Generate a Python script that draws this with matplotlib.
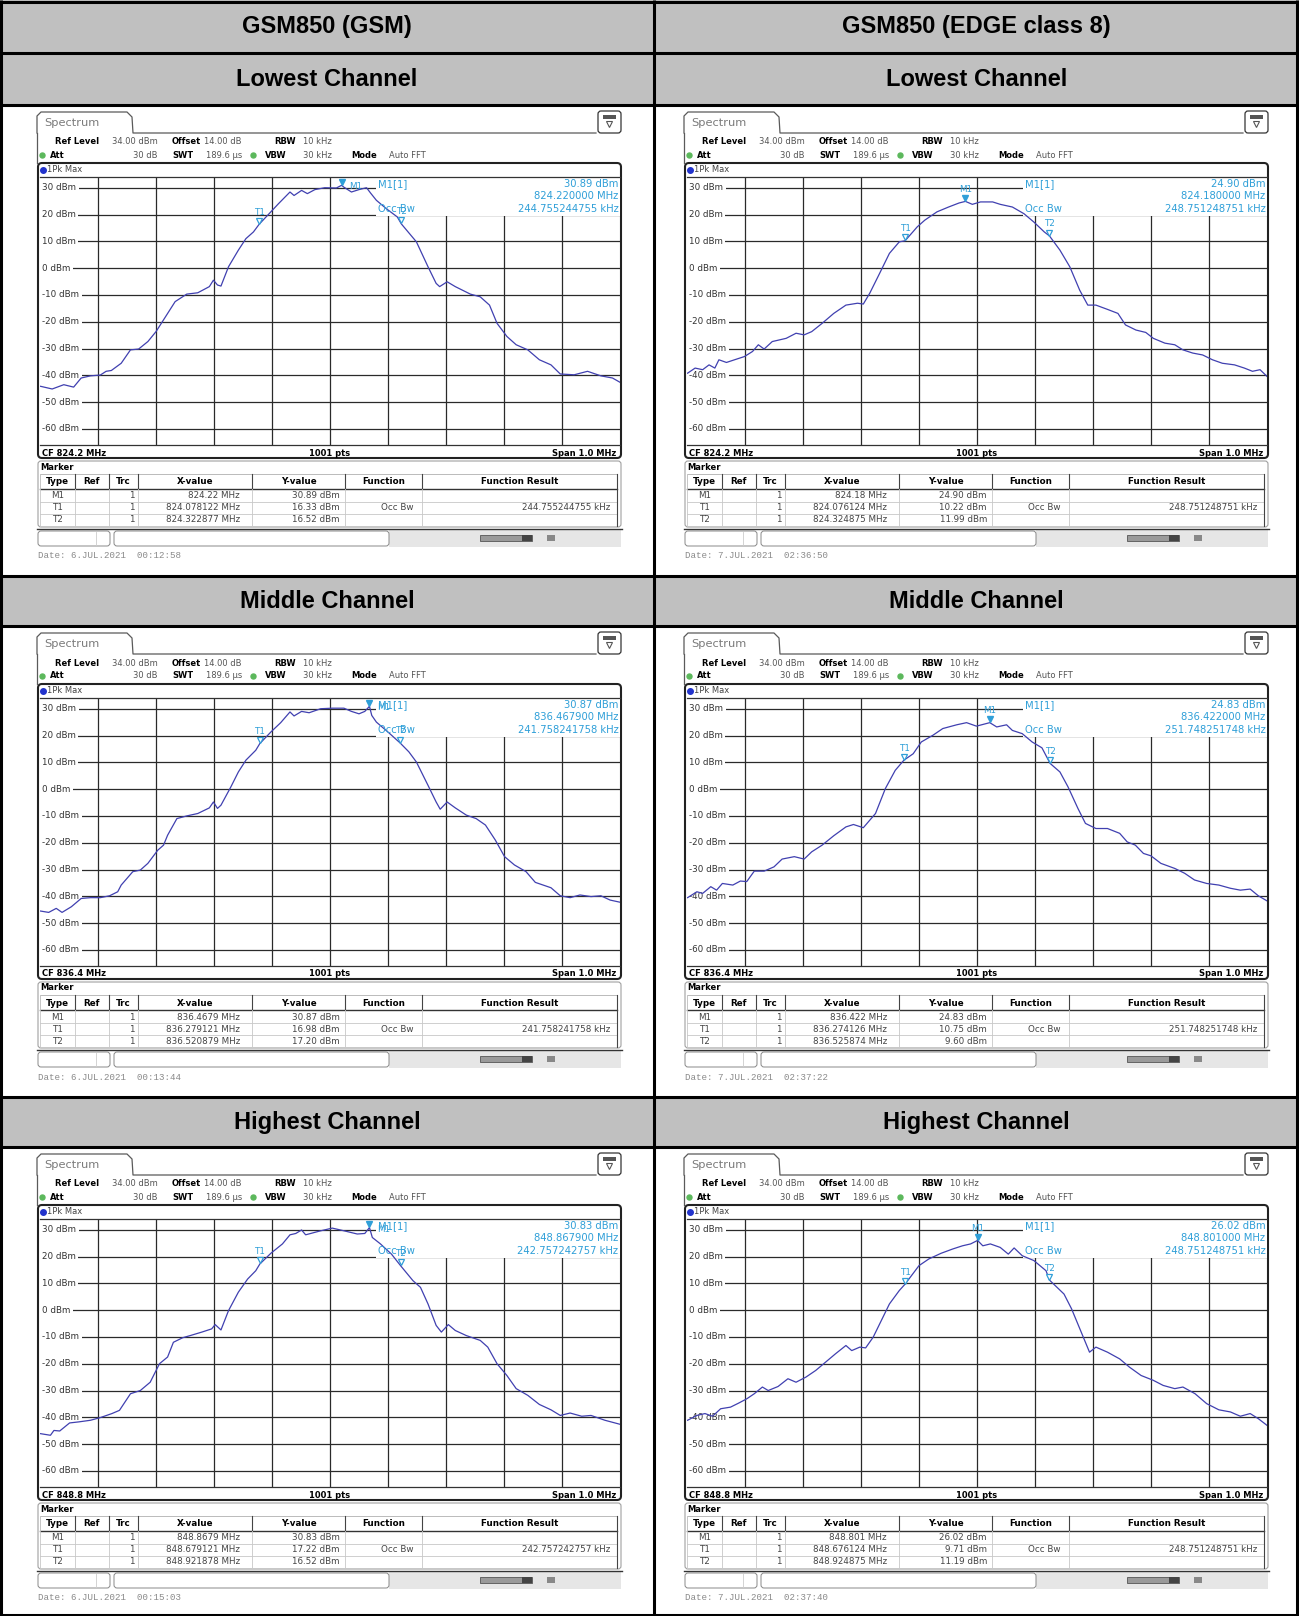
import matplotlib
matplotlib.use("Agg")
import matplotlib.pyplot as plt
from matplotlib.patches import Rectangle, FancyBboxPatch

W, H = 1299, 1616

# ---- table text ----
col_titles = ["GSM850 (GSM)", "GSM850 (EDGE class 8)"]
row_titles = ["Lowest Channel", "Middle Channel", "Highest Channel"]
cf_labels = ["CF 824.2 MHz", "CF 836.4 MHz", "CF 848.8 MHz"]
y_ticks = [30, 20, 10, 0, -10, -20, -30, -40, -50, -60]

# ---- traces (offset from CF in kHz, level in dBm) ----
gsm_low_khz = [-499, -479, -459, -442, -429, -413, -396, -386, -377, -360, -344, -330, -314, -300, -287,
               -267, -247, -228, -208, -201, -194, -188, -175, -158, -145, -132, -122, -105, -89, -69,
               -62, -49, -39, -26, -9, 11, 20, 24, 37, 50, 63, 70, 80, 97, 116,
               123, 149, 169, 183, 189, 202, 216, 242, 259, 275, 288, 305, 321, 341, 361,
               381, 397, 421, 444, 467, 487, 500]
gsm_low_dbm = [-44.1, -45.1, -43.5, -44.4, -41.0, -40.2, -39.9, -38.5, -38.2, -35.5, -30.5, -30.2, -27.4, -23.7, -19.3,
               -12.5, -9.7, -9.2, -6.9, -4.5, -6.3, -6.7, 0.5, 6.7, 11.0, 13.5, 16.4, 20.3, 24.0, 28.4,
               27.1, 29.0, 27.8, 29.3, 30.0, 29.9, 30.9, 30.2, 28.4, 29.3, 30.0, 28.0, 25.3, 22.2, 19.1,
               16.5, 9.8, 0.5, -5.7, -6.9, -5.1, -6.9, -9.7, -10.7, -13.8, -20.6, -25.5, -28.6, -30.5, -34.2,
               -36.1, -39.5, -39.8, -38.5, -40.2, -41.0, -42.6]

gsm_mid_khz = [-499, -485, -472, -462, -446, -429, -413, -396, -380, -366, -360, -340, -327, -314, -297,
               -287, -280, -264, -247, -228, -208, -201, -194, -188, -171, -158, -145, -128, -121, -102,
               -85, -69, -62, -49, -36, -16, 4, 24, 37, 50, 60, 68, 72, 80, 100,
               121, 136, 149, 169, 183, 190, 202, 216, 235, 252, 268, 285, 301, 318, 338,
               354, 381, 397, 414, 431, 450, 467, 483, 500]
gsm_mid_dbm = [-45.5, -46.0, -44.5, -46.0, -43.9, -40.8, -40.5, -40.5, -39.8, -38.3, -35.8, -30.8, -30.2, -27.7, -22.8,
               -20.9, -17.2, -11.0, -10.0, -9.1, -7.0, -4.8, -7.2, -6.0, 0.8, 6.4, 10.8, 14.5, 17.0, 21.3,
               24.8, 28.8, 27.3, 29.0, 28.5, 30.0, 30.2, 30.2, 29.0, 28.1, 29.0, 30.9, 27.5, 25.0, 21.3,
               17.2, 13.9, 10.1, 1.4, -4.8, -7.5, -4.8, -7.0, -9.7, -11.0, -13.4, -19.0, -25.2, -28.3, -30.8,
               -34.8, -36.8, -39.8, -40.5, -39.5, -40.1, -39.8, -41.4, -42.2]

gsm_high_khz = [-499, -482, -476, -466, -449, -433, -413, -396, -376, -363, -344, -327, -310, -294, -280,
                -270, -254, -241, -221, -204, -198, -188, -175, -158, -142, -128, -121, -102, -82, -69,
                -59, -49, -42, -16, 4, 24, 47, 60, 68, 73, 87, 106, 122, 143, 156,
                169, 183, 192, 204, 216, 235, 259, 272, 288, 305, 321, 341, 361, 381, 397,
                414, 434, 450, 474, 500]
gsm_high_dbm = [-46.1, -46.7, -44.9, -45.1, -42.1, -41.7, -41.1, -40.1, -38.6, -37.4, -31.2, -30.0, -26.9, -20.0, -17.5,
                -12.0, -10.3, -9.5, -8.2, -7.0, -5.4, -7.4, -0.2, 6.7, 11.6, 14.7, 17.2, 21.2, 24.7, 28.1,
                28.6, 29.9, 28.1, 29.6, 30.6, 29.6, 28.4, 28.6, 30.8, 27.1, 24.7, 20.9, 16.5, 11.0, 8.5,
                2.3, -5.7, -8.2, -5.4, -7.6, -9.5, -11.3, -13.8, -20.0, -24.4, -29.3, -31.8, -35.2, -37.2, -39.3,
                -38.4, -39.6, -39.3, -41.1, -42.6]

edge_low_khz = [-499, -486, -473, -462, -452, -445, -432, -418, -401, -387, -377, -367, -353, -329, -312,
                -298, -285, -267, -247, -226, -206, -196, -185, -168, -151, -134, -124, -103, -90, -69,
                -49, -31, -20, -8, 6, 27, 40, 61, 81, 98, 116, 125, 143, 160, 177,
                191, 205, 225, 243, 256, 274, 291, 304, 324, 341, 355, 372, 389, 406, 423,
                444, 461, 475, 488, 500]
edge_low_dbm = [-39.2, -37.3, -37.9, -36.1, -37.3, -34.2, -35.2, -34.2, -33.0, -31.1, -28.6, -30.2, -27.4, -26.2, -24.3,
                -24.9, -23.7, -20.6, -16.9, -13.8, -13.1, -13.4, -9.4, -2.0, 5.5, 9.8, 10.2, 15.4, 17.9, 21.0,
                22.8, 24.3, 24.9, 23.8, 24.7, 24.7, 23.8, 22.8, 20.3, 17.2, 13.5, 12.0, 6.7, 0.5, -8.2,
                -13.8, -13.8, -15.4, -16.9, -21.2, -23.1, -24.0, -26.2, -28.0, -28.6, -30.5, -31.7, -32.4, -34.2, -35.5,
                -36.1, -37.3, -38.5, -37.9, -40.4]

edge_mid_khz = [-499, -483, -473, -459, -449, -439, -421, -408, -397, -384, -367, -350, -336, -315, -298,
                -285, -267, -247, -226, -213, -196, -175, -158, -141, -126, -110, -96, -76, -59, -35,
                -18, -1, 22, 34, 51, 61, 78, 95, 112, 126, 143, 157, 174, 187, 205,
                225, 246, 259, 273, 287, 300, 317, 341, 358, 375, 396, 417, 437, 454, 471,
                485, 500]
edge_mid_dbm = [-40.5, -38.3, -38.9, -36.4, -37.7, -35.2, -35.8, -34.3, -34.5, -30.6, -30.6, -29.0, -26.1, -25.2, -26.1,
                -23.4, -20.9, -17.4, -14.1, -13.2, -14.4, -9.1, 0.2, 7.0, 10.8, 13.2, 17.6, 20.1, 22.6, 24.0,
                24.8, 23.5, 24.8, 23.2, 24.0, 21.9, 20.7, 17.6, 15.4, 9.6, 6.4, 0.8, -7.2, -12.8, -14.7,
                -14.7, -16.5, -19.7, -20.9, -24.0, -24.9, -27.7, -29.6, -31.4, -33.9, -35.2, -35.8, -37.0, -37.7, -37.3,
                -39.8, -41.7]

edge_high_khz = [-499, -483, -469, -456, -442, -425, -411, -397, -384, -370, -360, -343, -326, -312, -295,
                 -278, -261, -244, -226, -216, -202, -192, -179, -165, -151, -134, -124, -100, -83, -62,
                 -42, -25, -11, 1, 10, 23, 40, 54, 64, 78, 98, 119, 125, 150, 163,
                 181, 194, 205, 225, 246, 263, 283, 304, 321, 341, 355, 376, 396, 417, 437,
                 454, 471, 485, 500]
edge_high_dbm = [-41.1, -39.3, -38.6, -39.6, -36.8, -36.2, -34.7, -33.1, -31.2, -28.7, -30.0, -28.5, -25.6, -26.9, -25.0,
                 -22.5, -19.4, -16.3, -13.2, -15.1, -13.8, -14.1, -10.1, -3.9, 2.3, 7.3, 9.7, 16.6, 19.1, 21.2,
                 22.8, 24.0, 24.7, 26.0, 24.0, 24.7, 23.4, 20.9, 23.2, 20.3, 18.5, 14.7, 11.2, 6.0, 0.5,
                 -8.9, -15.7, -13.8, -15.7, -18.2, -21.3, -24.4, -26.2, -28.1, -29.3, -28.7, -31.2, -34.9, -37.2, -38.0,
                 -39.6, -38.6, -40.5, -43.0]

# ---- markers ----
gsm_m1_khz = [20.0, 67.9, 67.9]
gsm_m1_dbm = [30.89, 30.87, 30.83]
gsm_t1_khz = [-121.9, -120.9, -120.9]
gsm_t1_dbm = [16.33, 16.98, 17.22]
gsm_t2_khz = [122.9, 120.9, 121.9]
gsm_t2_dbm = [16.52, 17.20, 16.52]
gsm_m1_mhz = ["824.22", "836.4679", "848.8679"]
gsm_m1_mhz_long = ["824.220000", "836.467900", "848.867900"]
gsm_t1_mhz = ["824.078122", "836.279121", "848.679121"]
gsm_t2_mhz = ["824.322877", "836.520879", "848.921878"]
gsm_occ_bw = ["244.755244755", "241.758241758", "242.757242757"]
gsm_dates = ["6.JUL.2021  00:12:58", "6.JUL.2021  00:13:44", "6.JUL.2021  00:15:03"]

edge_m1_khz = [-20.0, 22.0, 1.0]
edge_m1_dbm = [24.90, 24.83, 26.02]
edge_t1_khz = [-123.9, -125.9, -123.9]
edge_t1_dbm = [10.22, 10.75, 9.71]
edge_t2_khz = [124.9, 125.9, 124.9]
edge_t2_dbm = [11.99, 9.60, 11.19]
edge_m1_mhz = ["824.18", "836.422", "848.801"]
edge_m1_mhz_long = ["824.180000", "836.422000", "848.801000"]
edge_t1_mhz = ["824.076124", "836.274126", "848.676124"]
edge_t2_mhz = ["824.324875", "836.525874", "848.924875"]
edge_occ_bw = ["248.751248751", "251.748251748", "248.751248751"]
edge_dates = ["7.JUL.2021  02:36:50", "7.JUL.2021  02:37:22", "7.JUL.2021  02:37:40"]

columns = [
    dict(traces=[(gsm_low_khz, gsm_low_dbm), (gsm_mid_khz, gsm_mid_dbm), (gsm_high_khz, gsm_high_dbm)],
         m1k=gsm_m1_khz, m1d=gsm_m1_dbm, t1k=gsm_t1_khz, t1d=gsm_t1_dbm, t2k=gsm_t2_khz, t2d=gsm_t2_dbm,
         m1f=gsm_m1_mhz, m1fl=gsm_m1_mhz_long, t1f=gsm_t1_mhz, t2f=gsm_t2_mhz, occ=gsm_occ_bw,
         dates=gsm_dates, edge=False),
    dict(traces=[(edge_low_khz, edge_low_dbm), (edge_mid_khz, edge_mid_dbm), (edge_high_khz, edge_high_dbm)],
         m1k=edge_m1_khz, m1d=edge_m1_dbm, t1k=edge_t1_khz, t1d=edge_t1_dbm, t2k=edge_t2_khz, t2d=edge_t2_dbm,
         m1f=edge_m1_mhz, m1fl=edge_m1_mhz_long, t1f=edge_t1_mhz, t2f=edge_t2_mhz, occ=edge_occ_bw,
         dates=edge_dates, edge=True),
]

CYAN = "#2f9fd8"
TRACE = "#4040b0"
GRID = "#2a2a2a"

fig = plt.figure(figsize=(W / 100, H / 100), dpi=100)
bg = fig.add_axes([0, 0, 1, 1])
bg.set_xlim(0, W)
bg.set_ylim(H, 0)
bg.axis("off")


def txt(x, y, s, size=6.0, **kw):
    kw.setdefault("va", "center")
    bg.text(x, y, s, fontsize=size, **kw)


# ---- outer table ----
header_rows = [(0, 53), (53, 105), (576, 626), (1097, 1147)]
panel_tops = [105, 626, 1147]
col_left = [0, 654]
col_right = [654, 1299]

for y0, y1 in header_rows:
    bg.add_patch(Rectangle((0, y0), W, y1 - y0, fc="#c0c0c0", ec="none"))
for y in [1.5, 53, 105, 576, 626, 1097, 1147, 1614.5]:
    bg.plot([0, W], [y, y], color="black", lw=2.2, solid_capstyle="butt")
for x in [1.5, 654, 1297.5]:
    bg.plot([x, x], [0, H], color="black", lw=2.2, solid_capstyle="butt")

for c in range(2):
    cx = (col_left[c] + col_right[c]) / 2
    txt(cx, 27, col_titles[c], size=17, ha="center", fontweight="bold", family="Liberation Sans")
    for r, (y0, y1) in enumerate(header_rows[1:]):
        txt(cx, (y0 + y1) / 2 + 1, row_titles[r], size=17, ha="center", fontweight="bold",
            family="Liberation Sans")

# ---- one analyzer screenshot ----
box_left = [38, 685]
BW = 583  # graph box width


def draw_panel(x0, top, col, r):
    khz, dbm = col["traces"][r]
    edge = col["edge"]

    # tab + top frame
    tab = [(x0 - 1, top + 28), (x0 - 1, top + 11), (x0 + 3, top + 7), (x0 + 89, top + 7),
           (x0 + 94, top + 12), (x0 + 95, top + 28), (x0 + 558, top + 28)]
    bg.plot(*zip(*tab), color="#5a5a5a", lw=0.9)
    bg.plot([x0 - 1, x0 - 1], [top + 28, top + 58], color="#5a5a5a", lw=0.9)
    txt(x0 + 6, top + 18, "Spectrum", size=8.2, color="#7a7a7a")
    bg.add_patch(FancyBboxPatch((x0 + 560, top + 6), 23, 22, boxstyle="round,pad=0,rounding_size=3",
                                fc="white", ec="#333", lw=0.9))
    bg.add_patch(Rectangle((x0 + 565, top + 10), 13, 4, fc="#555", ec="none"))
    bg.plot([x0 + 571.5], [top + 19], marker="v", ms=5, mfc="white", mec="#555", mew=0.8)

    # settings rows
    ya, yb = top + 37, top + 50
    txt(x0 + 17, ya, "Ref Level", fontweight="bold")
    txt(x0 + 120, ya, "34.00 dBm", ha="right", color="#555")
    txt(x0 + 134, ya, "Offset", fontweight="bold")
    txt(x0 + 166, ya, "14.00 dB", color="#555")
    txt(x0 + 236, ya, "RBW", fontweight="bold")
    txt(x0 + 265, ya, "10 kHz", color="#555")
    bg.plot([x0 + 4, x0 + 215], [yb, yb], ls="none", marker="o", ms=3.6, color="#5cb85c")
    txt(x0 + 12, yb, "Att", fontweight="bold")
    txt(x0 + 120, yb, "30 dB", ha="right", color="#555")
    txt(x0 + 134, yb, "SWT", fontweight="bold")
    txt(x0 + 168, yb, "189.6 µs", color="#555")
    txt(x0 + 227, yb, "VBW", fontweight="bold")
    txt(x0 + 265, yb, "30 kHz", color="#555")
    txt(x0 + 313, yb, "Mode", fontweight="bold")
    txt(x0 + 351, yb, "Auto FFT", color="#555")

    # graph box
    bg.add_patch(FancyBboxPatch((x0, top + 58), BW, 295, boxstyle="round,pad=0,rounding_size=4",
                                fc="white", ec="#222", lw=1.5))
    bg.plot([x0 + 5], [top + 64.5], marker="o", ms=4, color="#2233cc")
    txt(x0 + 9, top + 64.5, "1Pk Max", color="#444")
    txt(x0 + 4, top + 348, cf_labels[r], fontweight="bold")
    txt(x0 + BW / 2, top + 348, "1001 pts", fontweight="bold", ha="center")
    txt(x0 + BW - 5, top + 348, "Span 1.0 MHz", fontweight="bold", ha="right")

    # plot area
    ax = fig.add_axes([(x0 + 2) / W, 1 - (top + 340) / H, (BW - 3) / W, 268 / H])
    ax.set_xlim(-500, 500)
    ax.set_ylim(-66, 34)
    ax.set_xticks([])
    ax.set_yticks([])
    ax.patch.set_alpha(0)
    for s in ["left", "right"]:
        ax.spines[s].set_visible(False)
    for s in ["top", "bottom"]:
        ax.spines[s].set_color("#333")
        ax.spines[s].set_linewidth(0.9)
    for gx in range(-400, 500, 100):
        ax.axvline(gx, color=GRID, lw=0.9, zorder=1)
    for gy in y_ticks:
        ax.axhline(gy, color=GRID, lw=0.9, zorder=1)
        ax.text(-496, gy, f"{gy} dBm", fontsize=6.3, va="center", ha="left", color="#333", zorder=2,
                bbox=dict(fc="white", ec="none", pad=1.6))
    ax.add_patch(Rectangle((80, 19.6), 420, 14.4, fc="white", ec="none", zorder=1.5))
    ax.plot(khz, dbm, color=TRACE, lw=0.9, zorder=3)

    # marker readout
    ax.text(82, 31.4, "M1[1]", fontsize=7.2, color=CYAN, va="center", zorder=5)
    ax.text(497, 31.4, f"{col['m1d'][r]:.2f} dBm", fontsize=7.2, color=CYAN, va="center", ha="right", zorder=5)
    ax.text(497, 26.8, f"{col['m1fl'][r]} MHz", fontsize=7.2, color=CYAN, va="center", ha="right", zorder=5)
    ax.text(82, 21.9, "Occ Bw", fontsize=7.2, color=CYAN, va="center", zorder=5)
    ax.text(497, 21.9, f"{col['occ'][r]} kHz", fontsize=7.2, color=CYAN, va="center", ha="right", zorder=5)

    # markers on trace
    m1x, m1y = col["m1k"][r], col["m1d"][r]
    ax.plot([m1x], [m1y + 1.3], marker="v", ms=5, color=CYAN, zorder=4)
    if edge:
        ax.text(m1x, m1y + 4.5, "M1", fontsize=6.3, color=CYAN, ha="center", va="center", zorder=4)
    else:
        ax.text(m1x + 13, m1y - 0.6, "M1", fontsize=6.3, color=CYAN, ha="left", va="center", zorder=4)
    for name, tx, ty in [("T1", col["t1k"][r], col["t1d"][r]), ("T2", col["t2k"][r], col["t2d"][r])]:
        ax.plot([tx], [ty + 1.3], marker="v", ms=5, mfc="white", mec=CYAN, mew=0.9, zorder=4)
        ax.text(tx, ty + 4.5, name, fontsize=6.3, color=CYAN, ha="center", va="center", zorder=4)

    # marker table
    bg.add_patch(FancyBboxPatch((x0, top + 356), BW, 66, boxstyle="round,pad=0,rounding_size=3",
                                fc="white", ec="#a0a0a0", lw=0.8))
    txt(x0 + 2, top + 362, "Marker", fontweight="bold")
    tl, tr = x0 + 2, x0 + 579
    seps = [37, 70.6, 100, 213.8, 307, 384]
    bg.add_patch(Rectangle((tl, top + 369), tr - tl, 15, fc="white", ec="#b0b0b0", lw=0.6))
    bg.plot([tl, tr], [top + 384, top + 384], color="#333", lw=1.0)
    for yl in [top + 397, top + 409, top + 421]:
        bg.plot([tl, tr], [yl, yl], color="#c8c8c8", lw=0.6)
    for sx in seps:
        bg.plot([x0 + sx, x0 + sx], [top + 369, top + 384], color="#444", lw=0.8)
        bg.plot([x0 + sx, x0 + sx], [top + 384, top + 421], color="#c8c8c8", lw=0.6)
    bg.plot([tl, tl], [top + 369, top + 421], color="#c8c8c8", lw=0.6)
    bg.plot([tr, tr], [top + 369, top + 421], color="#444", lw=0.8)
    hy = top + 377
    for cx, s in [(19.5, "Type"), (53.8, "Ref"), (85.3, "Trc"), (157, "X-value"), (260.4, "Y-value"),
                  (345.5, "Function"), (481.5, "Function Result")]:
        txt(x0 + cx, hy, s, ha="center", fontweight="bold", size=6.3)
    rows = [("M1", col["m1f"][r], col["m1d"][r], "", ""),
            ("T1", col["t1f"][r], col["t1d"][r], "Occ Bw", f"{col['occ'][r]} kHz"),
            ("T2", col["t2f"][r], col["t2d"][r], "", "")]
    for i, (typ, xf, yv, fn, res) in enumerate(rows):
        yy = top + 391 + 12 * i
        txt(x0 + 19.5, yy, typ, ha="center", color="#444", size=6.3)
        txt(x0 + 97, yy, "1", ha="right", color="#444", size=6.3)
        txt(x0 + 202, yy, f"{xf} MHz", ha="right", color="#444", size=6.3)
        txt(x0 + 302, yy, f"{yv:.2f} dBm", ha="right", color="#444", size=6.3)
        txt(x0 + 376, yy, fn, ha="right", color="#444", size=6.3)
        txt(x0 + 572, yy, res, ha="right", color="#444", size=6.3)

    # status bar
    bg.plot([x0 - 1, x0 + BW + 1], [top + 424, top + 424], color="#333", lw=1.0)
    bg.add_patch(Rectangle((x0 + 351, top + 425), 232, 17, fc="#e6e6e6", ec="none"))
    bg.add_patch(FancyBboxPatch((x0, top + 426), 72, 15, boxstyle="round,pad=0,rounding_size=3",
                                fc="white", ec="#888", lw=0.7))
    bg.plot([x0 + 58, x0 + 58], [top + 427, top + 440], color="#ccc", lw=0.6)
    bg.add_patch(FancyBboxPatch((x0 + 76, top + 426), 275, 15, boxstyle="round,pad=0,rounding_size=3",
                                fc="white", ec="#888", lw=0.7))
    bg.add_patch(Rectangle((x0 + 442, top + 430), 52, 6, fc="#9a9a9a", ec="#555", lw=0.6))
    bg.add_patch(Rectangle((x0 + 484, top + 430), 10, 6, fc="#444", ec="none"))
    bg.add_patch(Rectangle((x0 + 509, top + 430), 8, 6, fc="#888", ec="none"))

    txt(x0, top + 451, "Date: " + col["dates"][r], size=6.6, color="#8a8a8a", family="Liberation Mono")


for c in range(2):
    for r in range(3):
        draw_panel(box_left[c], panel_tops[r], columns[c], r)

fig.savefig("out.png", dpi=100, facecolor="white")
